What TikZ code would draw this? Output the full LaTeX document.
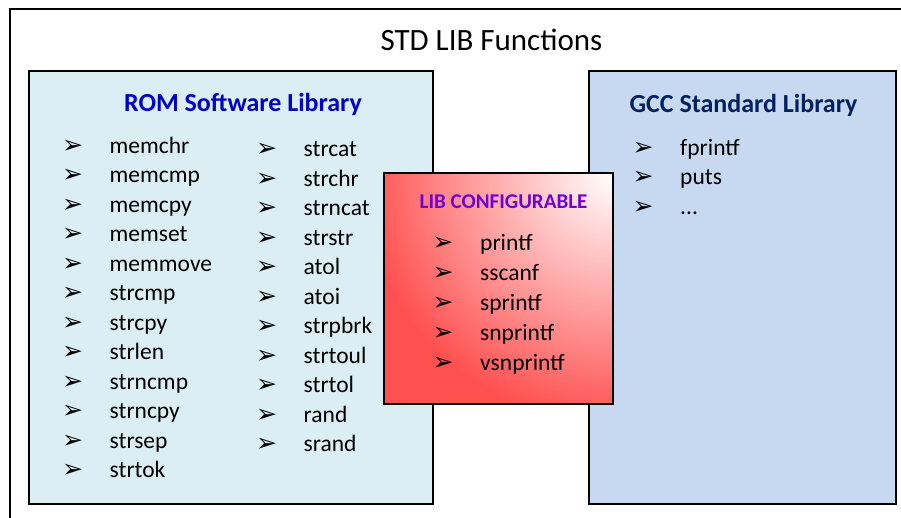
\documentclass[tikz,border=0pt]{standalone}
\usepackage{fontspec}
\setmainfont{Carlito}
\newfontfamily\arrowfont{DejaVu Sans}
\usepackage{array}

\definecolor{romfill}{HTML}{DAEEF3}
\definecolor{gccfill}{HTML}{C6D9F0}
\definecolor{romtext}{HTML}{0000C8}
\definecolor{gcctext}{HTML}{002060}
\definecolor{cfgtext}{HTML}{7000D8}
\definecolor{cfgred}{HTML}{FF5050}

\newcommand{\arw}{{\arrowfont\fontsize{25}{25}\selectfont ➢}}
\newcommand{\fnlist}[1]{\begin{tabular}[t]{@{}p{47.5pt}@{}l@{}}#1\end{tabular}}

\begin{document}
\begin{tikzpicture}[x=1pt,y=-1pt]
				\tikzstyle{libbox}=[draw,line width=1.5pt,inner sep=0,anchor=north west]
				\tikzstyle{head}=[anchor=base,inner sep=0,font=\bfseries\fontsize{26}{30}\selectfont]
				\tikzstyle{items}=[anchor=base west,inner sep=0,font=\fontsize{23.5}{29.5}\selectfont]
				
				\useasboundingbox (0,0) rectangle (901,517);
				\begin{scope}
				\clip (0,0) rectangle (901,517);
				\draw[line width=1.6pt] (10,9) rectangle (1000,600);
				\end{scope}
				
				\node[anchor=base,inner sep=0,font=\fontsize{31}{36}\selectfont] (title) at (491.5,50) {STD LIB Functions};
				
				\node[libbox,fill=romfill,minimum width=404pt,minimum height=433pt] (rom) at (28,70) {};
				\node[libbox,fill=gccfill,minimum width=307pt,minimum height=433pt] (gcc) at (588,70) {};
				\node[libbox,fill=cfgred,minimum width=229pt,minimum height=231pt,
					path picture={\shade[inner color=white,outer color=cfgred] (path picture bounding box.north east) circle (250pt);}] (cfg) at (383,172) {};
				
				\node[head,text=romtext] (romhead) at (243,111.5) {ROM Software Library};
				\node[head,text=gcctext] (gcchead) at (743.5,112.5) {GCC Standard Library};
				\node[head,text=cfgtext,font=\bfseries\fontsize{21}{25}\selectfont] (cfghead) at (503.5,208.3) {LIB CONFIGURABLE};
				
				\node[items] (romleft) at (62,153) {\fnlist{
					\arw & memchr\\ \arw & memcmp\\ \arw & memcpy\\ \arw & memset\\
					\arw & memmove\\ \arw & strcmp\\ \arw & strcpy\\ \arw & strlen\\
					\arw & strncmp\\ \arw & strncpy\\ \arw & strsep\\ \arw & strtok}};
				\node[items] (romright) at (256,156.5) {\fnlist{
					\arw & strcat\\ \arw & strchr\\ \arw & strncat\\ \arw & strstr\\
					\arw & atol\\ \arw & atoi\\ \arw & strpbrk\\ \arw & strtoul\\
					\arw & strtol\\ \arw & rand\\ \arw & srand}};
				\node[items,font=\fontsize{23.5}{30}\selectfont] (cfglist) at (432.5,250.5) {\fnlist{
					\arw & printf\\ \arw & sscanf\\ \arw & sprintf\\ \arw & snprintf\\ \arw & vsnprintf}};
				\node[items] (gcclist) at (632.5,155.3) {\fnlist{
					\arw & fprintf\\ \arw & puts\\ \arw & ...}};
				
\end{tikzpicture}
\end{document}
